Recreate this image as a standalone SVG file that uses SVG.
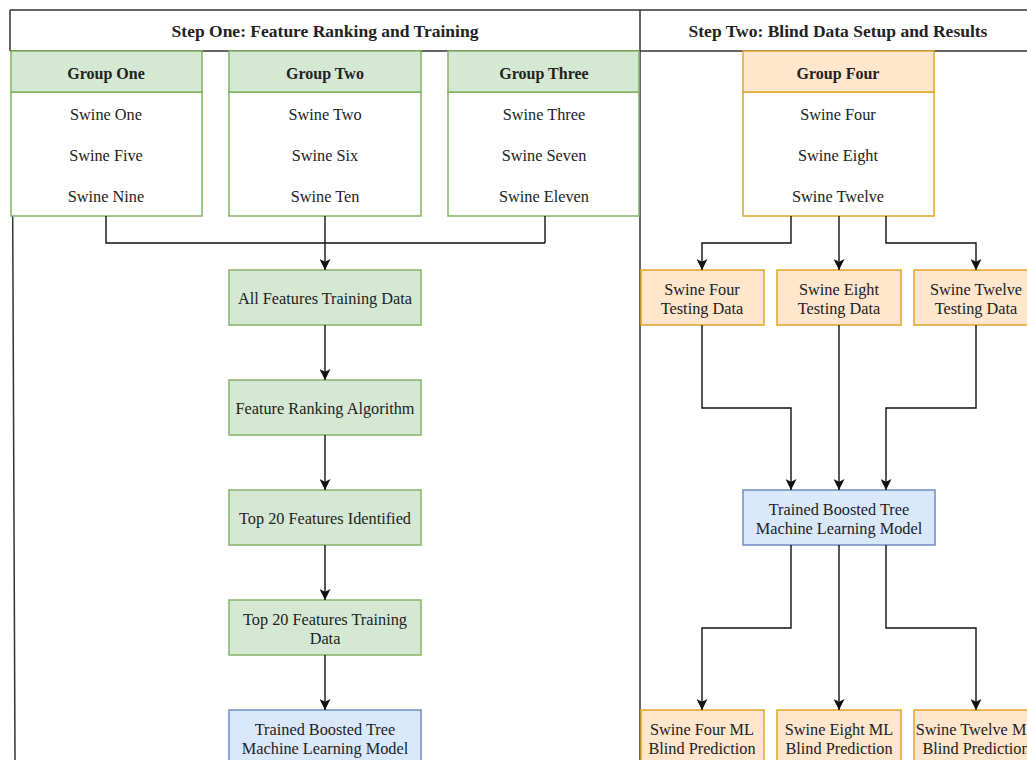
<svg xmlns="http://www.w3.org/2000/svg" width="1027" height="760" viewBox="0 0 1027 760">
<style>
text{font-family:"Liberation Serif","Times New Roman",serif;fill:#222;text-anchor:middle;dominant-baseline:central}
.t{font-size:16.3px}
.h{font-size:16px;font-weight:bold}
.title{font-size:17.5px;font-weight:bold}
.g rect.hd{fill:#d5e8d4;stroke:#82b366;stroke-width:1.5}
.g rect.bd{fill:#fff;stroke:#82b366;stroke-width:1.5}
.o rect.hd{fill:#ffe6cc;stroke:#e0a526;stroke-width:1.5}
.o rect.bd{fill:#fff;stroke:#e0a526;stroke-width:1.5}
.gb{fill:#d5e8d4;stroke:#82b366;stroke-width:1.5}
.ob{fill:#ffe6cc;stroke:#e0a526;stroke-width:1.5}
.bb{fill:#dae8fc;stroke:#6c8ebf;stroke-width:1.5}
.frame{fill:none;stroke:#333;stroke-width:1.5}
.c path{fill:none;stroke:#111;stroke-width:1.4;marker-end:url(#ah)}
.c path.n{marker-end:none}
</style>
<defs>
<marker id="ah" viewBox="0 0 10 10" refX="10" refY="5" markerWidth="11" markerHeight="11" markerUnits="userSpaceOnUse" orient="auto">
<path d="M0,0 L10,5 L0,10 L2.5,5 Z" fill="#111"/>
</marker>
</defs>
<rect width="1027" height="760" fill="#fff"/>
<g id="frame">
<path class="frame" d="M10,10 H1027 M10,51 H1027 M10,10 V51 M640,10 V760 M12,51 L15,760"/>
<text class="title" x="325" y="31">Step One: Feature Ranking and Training</text>
<text class="title" x="838" y="31">Step Two: Blind Data Setup and Results</text>
</g>
<g id="group-one" class="g">
<rect class="bd" x="11" y="92" width="191" height="124"/>
<rect class="hd" x="11" y="51" width="191" height="41"/>
<text class="h" x="106" y="73">Group One</text>
<text class="t" x="106" y="114">Swine One</text>
<text class="t" x="106" y="155">Swine Five</text>
<text class="t" x="106" y="196">Swine Nine</text>
</g>
<g id="group-two" class="g">
<rect class="bd" x="229" y="92" width="192" height="124"/>
<rect class="hd" x="229" y="51" width="192" height="41"/>
<text class="h" x="325" y="73">Group Two</text>
<text class="t" x="325" y="114">Swine Two</text>
<text class="t" x="325" y="155">Swine Six</text>
<text class="t" x="325" y="196">Swine Ten</text>
</g>
<g id="group-three" class="g">
<rect class="bd" x="448" y="92" width="191" height="124"/>
<rect class="hd" x="448" y="51" width="191" height="41"/>
<text class="h" x="544" y="73">Group Three</text>
<text class="t" x="544" y="114">Swine Three</text>
<text class="t" x="544" y="155">Swine Seven</text>
<text class="t" x="544" y="196">Swine Eleven</text>
</g>
<g id="group-four" class="o">
<rect class="bd" x="743" y="92" width="191" height="124"/>
<rect class="hd" x="743" y="51" width="191" height="41"/>
<text class="h" x="838" y="73">Group Four</text>
<text class="t" x="838" y="114">Swine Four</text>
<text class="t" x="838" y="155">Swine Eight</text>
<text class="t" x="838" y="196">Swine Twelve</text>
</g>
<g id="all-features">
<rect class="gb" x="229" y="270" width="192" height="55"/>
<text class="t" x="325" y="298">All Features Training Data</text>
</g>
<g id="ranking">
<rect class="gb" x="229" y="380" width="192" height="55"/>
<text class="t" x="325" y="408">Feature Ranking Algorithm</text>
</g>
<g id="top20-id">
<rect class="gb" x="229" y="490" width="192" height="55"/>
<text class="t" x="325" y="518">Top 20 Features Identified</text>
</g>
<g id="top20-train">
<rect class="gb" x="229" y="600" width="192" height="55"/>
<text class="t" x="325" y="619">Top 20 Features Training</text>
<text class="t" x="325" y="638">Data</text>
</g>
<g id="model-left">
<rect class="bb" x="229" y="710" width="192" height="55"/>
<text class="t" x="325" y="729">Trained Boosted Tree</text>
<text class="t" x="325" y="748">Machine Learning Model</text>
</g>
<g id="test-four">
<rect class="ob" x="641" y="270" width="123" height="55"/>
<text class="t" x="702" y="289">Swine Four</text>
<text class="t" x="702" y="308">Testing Data</text>
</g>
<g id="test-eight">
<rect class="ob" x="777" y="270" width="124" height="55"/>
<text class="t" x="839" y="289">Swine Eight</text>
<text class="t" x="839" y="308">Testing Data</text>
</g>
<g id="test-twelve">
<rect class="ob" x="914" y="270" width="124" height="55"/>
<text class="t" x="976" y="289">Swine Twelve</text>
<text class="t" x="976" y="308">Testing Data</text>
</g>
<g id="model-right">
<rect class="bb" x="743" y="490" width="192" height="55"/>
<text class="t" x="839" y="509">Trained Boosted Tree</text>
<text class="t" x="839" y="528">Machine Learning Model</text>
</g>
<g id="pred-four">
<rect class="ob" x="641" y="710" width="123" height="55"/>
<text class="t" x="702" y="729">Swine Four ML</text>
<text class="t" x="702" y="748">Blind Prediction</text>
</g>
<g id="pred-eight">
<rect class="ob" x="777" y="710" width="124" height="55"/>
<text class="t" x="839" y="729">Swine Eight ML</text>
<text class="t" x="839" y="748">Blind Prediction</text>
</g>
<g id="pred-twelve">
<rect class="ob" x="914" y="710" width="124" height="55"/>
<text class="t" x="976" y="729">Swine Twelve ML</text>
<text class="t" x="976" y="748">Blind Prediction</text>
</g>
<g id="connectors" class="c">
<path class="n" d="M106,216 V243 H545"/>
<path class="n" d="M545,216 V243"/>
<path d="M325,216 V270"/>
<path d="M325,325 V380"/>
<path d="M325,435 V490"/>
<path d="M325,545 V600"/>
<path d="M325,655 V710"/>
<path d="M791,216 V243 H702 V270"/>
<path d="M839,216 V270"/>
<path d="M886,216 V243 H976 V270"/>
<path d="M702,325 V408 H791 V490"/>
<path d="M839,325 V490"/>
<path d="M976,325 V408 H886 V490"/>
<path d="M791,545 V628 H702 V710"/>
<path d="M839,545 V710"/>
<path d="M886,545 V628 H976 V710"/>
</g>
</svg>
